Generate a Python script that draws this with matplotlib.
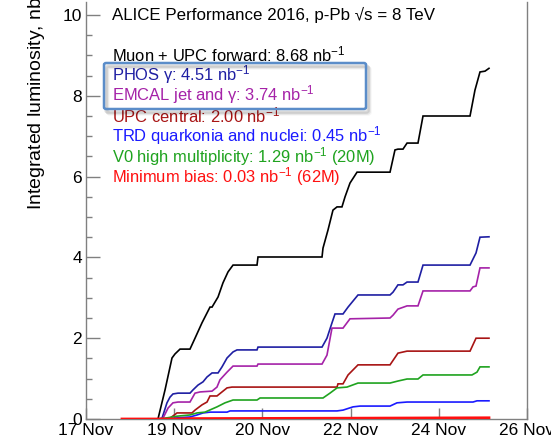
import matplotlib
matplotlib.use("Agg")
import matplotlib.pyplot as plt
from matplotlib.patches import FancyBboxPatch
import numpy as np

plt.rcParams['font.family'] = ['Liberation Sans', 'DejaVu Sans']
plt.rcParams['mathtext.fontset'] = 'custom'
plt.rcParams['mathtext.rm'] = 'Liberation Sans'
plt.rcParams['mathtext.it'] = 'Liberation Sans:italic'

W, H = 551, 442

# time axis: one unit per labelled tick
date_labels = ['17 Nov', '19 Nov', '20 Nov', '22 Nov', '24 Nov', '26 Nov']

# integrated luminosity (nb^-1) per trigger class
muon_t = [0.726, 0.816, 0.896, 0.975, 1.009, 1.066, 1.179, 1.236, 1.315, 1.406, 1.429,
          1.497, 1.553, 1.610, 1.667, 1.939, 1.950, 2.676, 2.687, 2.744, 2.800, 2.846,
          2.902, 2.937, 2.993, 3.073, 3.447, 3.503, 3.537, 3.594, 3.640, 3.764, 3.821,
          4.354, 4.410, 4.467, 4.524, 4.569]
muon_l = [0.0, 0.0, 0.72, 1.51, 1.61, 1.73, 1.73, 2.00, 2.38, 2.77, 2.77,
          3.02, 3.37, 3.64, 3.81, 3.81, 4.01, 4.01, 4.23, 4.68, 5.17, 5.25,
          5.25, 5.50, 5.84, 6.11, 6.11, 6.66, 6.68, 6.68, 6.83, 6.83, 7.50,
          7.50, 8.14, 8.59, 8.61, 8.68]

phos_t = [0.816, 0.862, 0.918, 0.952, 0.986, 1.043, 1.179, 1.213, 1.270, 1.327, 1.372,
          1.429, 1.497, 1.542, 1.599, 1.667, 1.712, 1.939, 1.950, 2.676, 2.732, 2.789,
          2.823, 2.914, 2.971, 3.084, 3.447, 3.481, 3.537, 3.594, 3.640, 3.764, 3.821,
          4.354, 4.422, 4.467, 4.569]
phos_l = [0.0, 0.02, 0.40, 0.54, 0.62, 0.64, 0.64, 0.72, 0.84, 0.92, 1.04,
          1.14, 1.14, 1.29, 1.51, 1.66, 1.71, 1.71, 1.78, 1.78, 2.00, 2.38,
          2.60, 2.60, 2.77, 3.07, 3.07, 3.14, 3.32, 3.32, 3.39, 3.39, 3.81,
          3.81, 4.11, 4.50, 4.51]

emcal_t = [0.816, 0.873, 0.930, 0.986, 1.043, 1.179, 1.236, 1.293, 1.429, 1.485, 1.519,
           1.599, 1.667, 1.939, 1.950, 2.676, 2.732, 2.789, 2.914, 2.993, 3.447, 3.481,
           3.537, 3.640, 3.764, 3.821, 4.354, 4.388, 4.422, 4.467, 4.569]
emcal_l = [0.0, 0.02, 0.27, 0.40, 0.42, 0.42, 0.64, 0.67, 0.69, 0.79, 0.97,
           1.16, 1.31, 1.31, 1.36, 1.36, 1.58, 2.25, 2.25, 2.48, 2.50, 2.57,
           2.72, 2.80, 2.80, 3.17, 3.17, 3.27, 3.29, 3.74, 3.74]

upc_t = [0.839, 0.952, 1.032, 1.202, 1.236, 1.315, 1.372, 1.406, 1.485, 1.542, 1.599,
         1.655, 2.846, 2.857, 2.914, 2.971, 3.084, 3.447, 3.537, 3.640, 4.354, 4.422, 4.569]
upc_l = [0.0, 0.02, 0.15, 0.15, 0.22, 0.35, 0.42, 0.57, 0.57, 0.67, 0.77,
         0.79, 0.79, 0.87, 0.87, 1.09, 1.34, 1.34, 1.63, 1.68, 1.68, 2.00, 2.00]

trd_t = [0.896, 0.986, 1.179, 1.259, 1.327, 1.406, 1.599, 1.633, 2.846, 2.914, 3.027,
         3.107, 3.447, 3.526, 3.640, 4.388, 4.433, 4.569]
trd_l = [0.0, 0.02, 0.05, 0.10, 0.15, 0.17, 0.17, 0.20, 0.20, 0.22, 0.30,
         0.32, 0.32, 0.40, 0.42, 0.42, 0.45, 0.45]

v0_t = [0.839, 0.896, 1.032, 1.179, 1.259, 1.349, 1.485, 1.576, 1.667, 1.939, 1.973,
        2.687, 2.766, 2.846, 2.959, 3.084, 3.447, 3.537, 3.640, 3.764, 3.821, 4.376,
        4.433, 4.467, 4.569]
v0_l = [0.0, 0.02, 0.07, 0.10, 0.15, 0.17, 0.30, 0.40, 0.47, 0.47, 0.52,
        0.52, 0.64, 0.77, 0.79, 0.89, 0.89, 0.94, 0.99, 0.99, 1.09, 1.09,
        1.16, 1.29, 1.29]

mb_t = [0.408, 1.000, 1.200, 3.000, 4.569]
mb_l = [0.0, 0.0, 0.01, 0.02, 0.03]

series = [
    ('Muon + UPC forward: 8.68 nb$^{-1}$', muon_t, muon_l, 'black'),
    ('PHOS \u03b3: 4.51 nb$^{-1}$', phos_t, phos_l, '#1f1fa3'),
    ('EMCAL jet and \u03b3: 3.74 nb$^{-1}$', emcal_t, emcal_l, '#a522a8'),
    ('UPC central: 2.00 nb$^{-1}$', upc_t, upc_l, '#a81414'),
    ('TRD quarkonia and nuclei: 0.45 nb$^{-1}$', trd_t, trd_l, '#1a1aff'),
    ('V0 high multiplicity: 1.29 nb$^{-1}$ (20M)', v0_t, v0_l, '#1fa31f'),
    ('Minimum bias: 0.03 nb$^{-1}$ (62M)', mb_t, mb_l, '#ff1010'),
]

fig = plt.figure(figsize=(W / 100, H / 100), dpi=100)
ax = fig.add_axes([86 / W, 1 - 419 / H, (527 - 86) / W, (419 - 2) / H])

for label, t, l, c in series:
    lw = 2.0 if c == '#ff1010' else 1.2
    ax.plot(t, l, color=c, lw=lw, solid_joinstyle='miter', zorder=3 if c != '#ff1010' else 4)

ax.set_xlim(0, 5)
ax.set_ylim(0, (419 - 2) / 40.4)
ax.set_xticks(np.arange(len(date_labels)))
ax.set_xticklabels(date_labels, fontsize=12.5)
ax.set_yticks(np.arange(0, 11, 2))
ax.set_yticklabels([str(v) for v in range(0, 11, 2)], fontsize=12.5)
ax.set_yticks(np.arange(0, 10.5, 0.5), minor=True)

spine_c = '#808080'
for s in ('left', 'bottom', 'right'):
    ax.spines[s].set_color(spine_c)
    ax.spines[s].set_linewidth(1.0)
ax.spines['top'].set_visible(False)
ax.tick_params(axis='y', which='major', direction='in', length=10, width=1, color=spine_c, pad=3)
ax.tick_params(axis='y', which='minor', direction='in', length=4.5, width=1, color=spine_c)
ax.tick_params(axis='x', which='major', direction='in', length=8, width=1, color=spine_c, pad=3)

fig.text(35 / W, 1 - 210 / H, 'Integrated luminosity, nb$^{-1}$', rotation=90,
         ha='center', va='bottom', fontsize=14)

# header and per-trigger totals
fig.text(112 / W, 1 - 15 / H, 'ALICE Performance 2016, p-Pb \u221as = 8 TeV',
         ha='left', va='center', fontsize=12.2)
y0, dy = 54, 20.5
for i, (label, t, l, c) in enumerate(series):
    fig.text(112 / W, 1 - (y0 + i * dy) / H, label, color=c,
             ha='left', va='center', fontsize=11.9)

# highlight frame around the calorimeter triggers
bx0, bx1, by0, by1 = 104, 366, 63, 109
for k, a in enumerate([0.10, 0.07, 0.04]):
    sh = FancyBboxPatch(((bx0 + 2 + k) / W, 1 - (by1 + 3 + k) / H),
                        (bx1 - bx0) / W, (by1 - by0) / H,
                        boxstyle='round,pad=0,rounding_size=0.004',
                        transform=fig.transFigure, fc='none',
                        ec=(0, 0, 0, a), lw=2.5, zorder=8)
    fig.add_artist(sh)
box = FancyBboxPatch((bx0 / W, 1 - by1 / H), (bx1 - bx0) / W, (by1 - by0) / H,
                     boxstyle='round,pad=0,rounding_size=0.004',
                     transform=fig.transFigure, fc='none', ec='#5b8dc9', lw=1.8, zorder=9)
fig.add_artist(box)

fig.savefig('out.png', dpi=100)
